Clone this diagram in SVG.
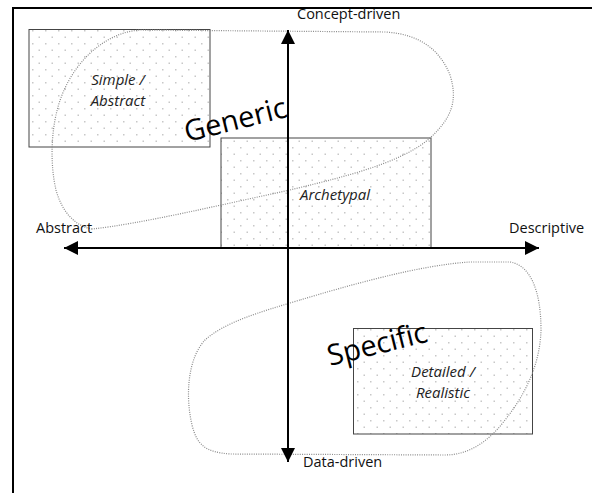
<svg xmlns="http://www.w3.org/2000/svg" width="592" height="493" viewBox="0 0 592 493">
<defs>
<pattern id="dots" width="13" height="13" patternUnits="userSpaceOnUse" x="3" y="1">
<rect x="3" y="3" width="1.5" height="1.5" fill="#c8c8c8"/>
<rect x="9.5" y="9.5" width="1.5" height="1.5" fill="#c8c8c8"/>
</pattern>
<marker id="ah" viewBox="0 0 10 10" refX="10" refY="5" markerWidth="7.5" markerHeight="7" orient="auto" markerUnits="strokeWidth">
<path d="M0,0 L10,5 L0,10 Z" fill="#000"/>
</marker>
<style>
.box{fill:url(#dots);stroke:#444;stroke-width:1}
.bg{fill:#fff}
.lbl{font-family:"Open Sans",sans-serif;font-size:14.5px;fill:#111}
.it{font-family:"Open Sans",sans-serif;font-size:15px;font-style:italic;fill:#222;text-anchor:middle}
.big{font-family:"Open Sans",sans-serif;font-size:29px;fill:#000}
.blob{fill:none;stroke:#8a8a8a;stroke-width:1.2;stroke-dasharray:1 1.3}
.axis{stroke:#000;stroke-width:2;fill:none}
</style>
</defs>
<rect x="0" y="0" width="592" height="493" fill="#fff"/>
<rect x="13" y="8" width="600" height="500" fill="none" stroke="#000" stroke-width="2"/>

<g id="simple-abstract">
<rect class="bg" x="29" y="29.5" width="181" height="117.5"/>
<rect class="box" x="29" y="29.5" width="181" height="117.5"/>
<text class="it" x="118" y="85">Simple /</text>
<text class="it" x="118" y="106">Abstract</text>
</g>
<g id="archetypal">
<rect class="bg" x="221" y="138" width="210" height="110"/>
<rect class="box" x="221" y="138" width="210" height="110"/>
<text class="it" x="335" y="200">Archetypal</text>
</g>
<g id="detailed-realistic">
<rect class="bg" x="353.5" y="328.5" width="179" height="105.5"/>
<rect class="box" x="353.5" y="328.5" width="179" height="105.5"/>
<text class="it" x="443" y="377">Detailed /</text>
<text class="it" x="443" y="398">Realistic</text>
</g>

<g id="generic">
<path class="blob" d="M92,229 C75,226 62,212 56,190 C50,165 50,125 62,95 C78,55 110,32 140,30 L385,32 C420,34 440,50 450,75 C458,100 452,118 430,138 C400,165 330,180 290,190 C220,205 140,224 92,229 Z"/>
<text class="big" transform="translate(187,142) rotate(-14)">Generic</text>
</g>
<g id="specific">
<path class="blob" d="M300,300 C260,312 225,322 205,340 C188,358 185,395 192,425 C197,445 205,452 230,454 L445,455 C470,455 490,440 505,420 C525,395 540,365 541,330 C541,290 530,265 510,262 L470,262 C420,265 350,285 300,300 Z"/>
<text class="big" transform="translate(330,366) rotate(-14)">Specific</text>
</g>

<g id="connectors">
<line class="axis" x1="288" y1="248" x2="288" y2="30" marker-end="url(#ah)"/>
<line class="axis" x1="288" y1="248" x2="288" y2="462" marker-end="url(#ah)"/>
<line class="axis" x1="289" y1="248" x2="64" y2="248" marker-end="url(#ah)"/>
<line class="axis" x1="287" y1="248" x2="539" y2="248" marker-end="url(#ah)"/>
</g>

<g id="axis-labels">
<text class="lbl" x="297" y="19">Concept-driven</text>
<text class="lbl" x="36" y="233">Abstract</text>
<text class="lbl" x="509" y="233">Descriptive</text>
<text class="lbl" x="303" y="467">Data-driven</text>
</g>
</svg>
